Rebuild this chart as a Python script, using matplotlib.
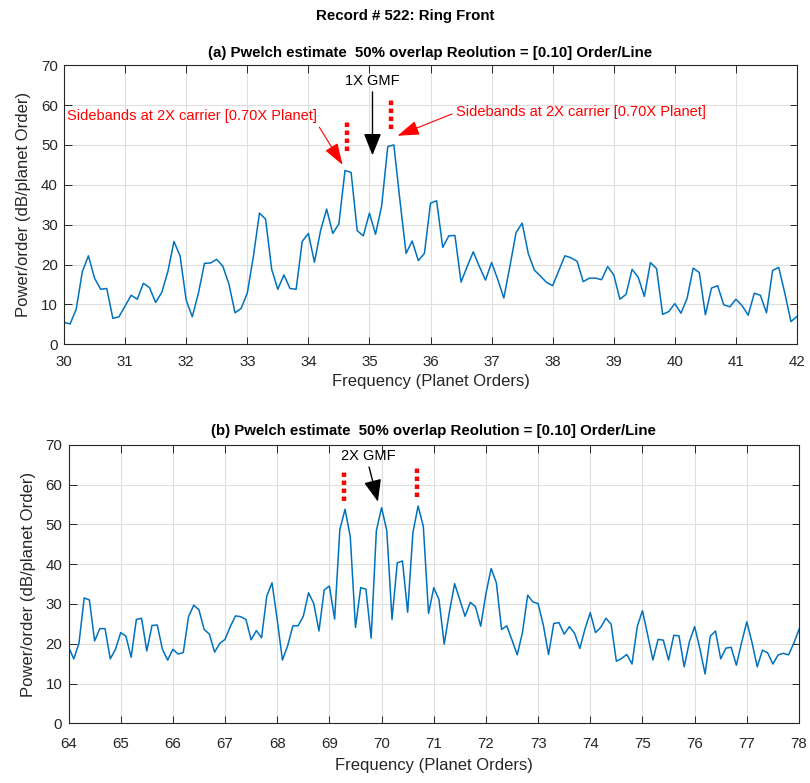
#
# Pwelch order spectrum plots for the ring gear front sensor
#

import numpy as np
from matplotlib import pyplot as plt

SMALL_SIZE = 10.8
MEDIUM_SIZE = 12

LINE_CLR = '#0072BD'
AX_CLR = '#262626'

# order resolution of the estimate
RES = 0.10

# (a) band around 1X GMF
freq_a_start = 30.0
freq_a_stop = 42.0
pwr_a = [5.5, 5.1, 8.8, 18.2, 22.2, 16.6, 13.8, 14.0, 6.5, 6.9,
         9.6, 12.3, 11.3, 15.3, 14.2, 10.5, 13.0, 18.2, 25.8, 22.2,
         11.1, 6.9, 12.8, 20.3, 20.4, 21.3, 19.6, 15.1, 7.9, 9.0,
         12.8, 22.0, 32.9, 31.4, 18.8, 13.8, 17.4, 14.0, 13.8, 25.8,
         27.8, 20.6, 28.5, 33.9, 27.8, 30.2, 43.6, 43.1, 28.5, 27.2,
         32.9, 27.6, 34.7, 49.6, 50.0, 36.0, 22.8, 25.9, 21.0, 22.8,
         35.4, 36.0, 24.3, 27.2, 27.3, 15.6, 19.5, 23.2, 19.5, 16.1,
         20.5, 16.3, 11.6, 19.6, 28.0, 30.4, 22.8, 18.6, 17.1, 15.5,
         14.7, 18.5, 22.2, 21.7, 20.8, 15.7, 16.6, 16.6, 16.2, 19.5,
         17.4, 11.3, 12.5, 18.8, 16.8, 12.0, 20.5, 19.0, 7.5, 8.2,
         10.2, 7.8, 11.5, 19.1, 18.0, 7.4, 14.1, 14.7, 9.9, 9.4,
         11.3, 9.7, 7.3, 12.8, 12.3, 7.9, 18.5, 19.3, 12.8, 5.7,
         7.0]

# (b) band around 2X GMF
freq_b_start = 64.0
freq_b_stop = 78.0
pwr_b = [19.2, 16.2, 20.1, 31.5, 31.0, 20.7, 23.8, 23.8, 16.2, 18.6,
         22.8, 21.9, 16.6, 26.1, 26.4, 18.2, 24.6, 24.7, 18.6, 15.9,
         18.6, 17.4, 17.8, 26.8, 29.7, 28.5, 23.6, 22.4, 17.9, 20.1,
         21.1, 24.3, 27.0, 26.8, 26.1, 21.0, 23.3, 21.5, 32.0, 35.3,
         26.0, 15.9, 19.5, 24.5, 24.5, 26.9, 32.8, 30.1, 23.2, 33.5,
         34.5, 26.2, 48.7, 53.8, 46.9, 24.1, 34.1, 33.7, 21.4, 48.4,
         54.2, 48.4, 26.1, 40.3, 40.8, 27.9, 47.9, 54.6, 49.5, 27.6,
         34.1, 31.1, 19.9, 28.0, 35.1, 31.0, 26.9, 30.4, 29.3, 24.4,
         32.6, 38.9, 35.3, 23.6, 24.5, 20.9, 17.2, 22.8, 32.2, 30.5,
         30.1, 24.7, 17.3, 25.1, 25.3, 22.4, 24.3, 22.6, 18.8, 23.8,
         27.8, 22.8, 24.1, 26.4, 24.9, 15.6, 16.3, 17.3, 14.9, 24.3,
         28.3, 22.2, 15.9, 21.1, 20.9, 15.9, 22.1, 22.0, 14.2, 20.5,
         24.3, 18.8, 12.4, 21.9, 23.2, 16.2, 18.9, 19.1, 14.6, 20.3,
         25.5, 20.3, 14.2, 18.4, 17.7, 14.9, 17.2, 17.6, 17.2, 20.1,
         23.6]

title_txt = 'Record # 522: Ring Front'
sub_a = '(a) Pwelch estimate  50% overlap Reolution = [0.10] Order/Line'
sub_b = '(b) Pwelch estimate  50% overlap Reolution = [0.10] Order/Line'
xlab = 'Frequency (Planet Orders)'
ylab = 'Power/order (dB/planet Order)'
sb_txt = 'Sidebands at 2X carrier [0.70X Planet]'

plt.rcParams['font.family'] = ['Liberation Sans', 'DejaVu Sans']


def orders(start, stop):
    n = int(round((stop - start) / RES)) + 1
    return start + RES * np.arange(n)


def styleAxes(ax, xlo, xhi, xpad, lpad):
    ax.set_xlim(xlo, xhi)
    ax.set_ylim(0, 70)
    ax.set_xticks(np.arange(xlo, xhi + 1, 1))
    ax.set_yticks(np.arange(0, 71, 10))
    ax.grid(True, color='#dfdfdf', linewidth=0.8)
    ax.set_axisbelow(True)
    ax.tick_params(direction='in', length=5.4, width=0.7, top=True, right=True,
                   labelsize=SMALL_SIZE, colors=AX_CLR)
    ax.tick_params(axis='x', pad=xpad)
    ax.tick_params(axis='y', pad=4.5)
    for s in ax.spines.values():
        s.set_color(AX_CLR)
        s.set_linewidth(0.8)
    ax.set_xlabel(xlab, fontsize=MEDIUM_SIZE, color=AX_CLR, labelpad=lpad)
    ax.set_ylabel(ylab, fontsize=MEDIUM_SIZE, color=AX_CLR, labelpad=7)


def redDots(ax, x, y0, y1):
    ax.plot([x, x], [y0, y1], color='r', linewidth=3.2,
            linestyle=(0, (1, 0.8)), solid_capstyle='butt', dash_capstyle='butt')


fig = plt.figure(figsize=(8.1, 7.83), dpi=100)
ax1 = fig.add_axes([0.079, 0.5603, 0.905, 0.3564])
ax2 = fig.add_axes([0.0846, 0.0762, 0.9018, 0.3558])

fig.text(0.5, 1 - 16 / 783, title_txt, ha='center', va='center',
         fontsize=SMALL_SIZE, fontweight='bold', color='k')

# top panel
ax1.plot(orders(freq_a_start, freq_a_stop), pwr_a, color=LINE_CLR, linewidth=1.1)
styleAxes(ax1, freq_a_start, freq_a_stop, 8, 3)
ax1.set_title(sub_a, fontsize=SMALL_SIZE, fontweight='bold', pad=6)

blk = dict(arrowstyle='-|>,head_length=0.75,head_width=0.3', color='k',
           lw=1.0, mutation_scale=18, shrinkA=1, shrinkB=0)
red = dict(arrowstyle='-|>,head_length=0.75,head_width=0.25', color='r',
           lw=0.8, mutation_scale=18, shrinkA=1, shrinkB=0)

ax1.annotate('1X GMF', xy=(35.05, 47.4), xytext=(35.05, 66.1), ha='center',
             va='center', fontsize=10.5, color='k',
             arrowprops=dict(blk, relpos=(0.5, 0.0)))
ax1.annotate(sb_txt, xy=(34.56, 45.0), xytext=(34.14, 57.2), ha='right',
             va='center', fontsize=10.5, color='r',
             arrowprops=dict(red, relpos=(1.0, 0.0)))
ax1.annotate(sb_txt, xy=(35.46, 52.3), xytext=(36.42, 58.2), ha='left',
             va='center', fontsize=10.5, color='r',
             arrowprops=dict(red, relpos=(0.0, 0.5)))
redDots(ax1, 34.64, 48.4, 55.8)
redDots(ax1, 35.35, 53.9, 61.3)

# bottom panel
ax2.plot(orders(freq_b_start, freq_b_stop), pwr_b, color=LINE_CLR, linewidth=1.1)
styleAxes(ax2, freq_b_start, freq_b_stop, 10, 5)
ax2.set_title(sub_b, fontsize=SMALL_SIZE, fontweight='bold', pad=7)

ax2.annotate('2X GMF', xy=(69.93, 55.7), xytext=(69.74, 67.2), ha='center',
             va='center', fontsize=10.5, color='k',
             arrowprops=dict(blk, relpos=(0.5, 0.0)))
redDots(ax2, 69.28, 55.9, 63.4)
redDots(ax2, 70.67, 56.8, 64.3)

fig.savefig('out.png', dpi=100)
